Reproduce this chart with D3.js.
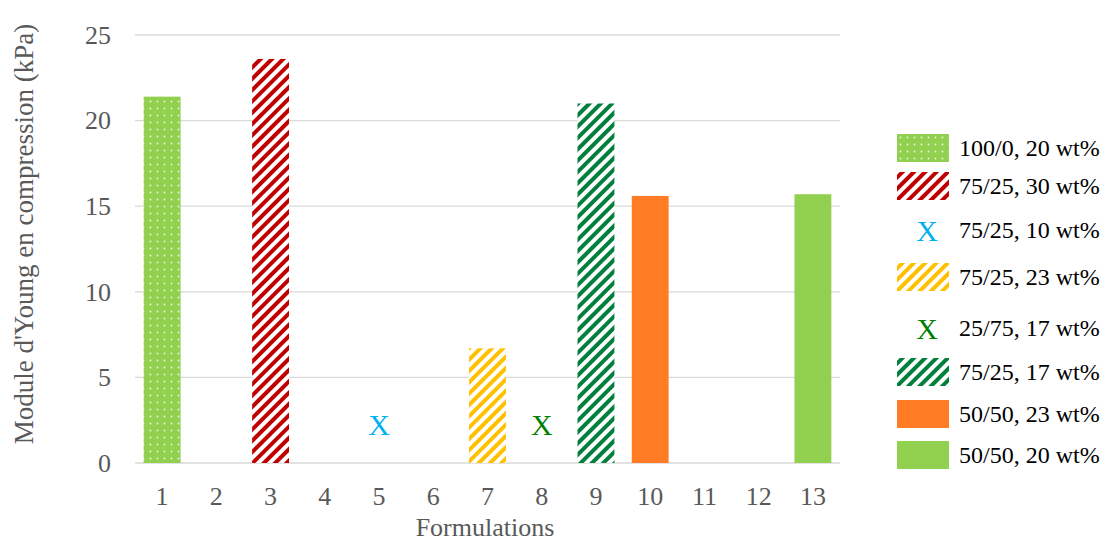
<!DOCTYPE html>
<html><head><meta charset="utf-8">
<script src="https://cdn.jsdelivr.net/npm/d3@7"></script>
<style>body{margin:0;background:#fff}svg{display:block}</style>
</head><body>
<script>
const categories = ["1","2","3","4","5","6","7","8","9","10","11","12","13"];
const seriesNames = ["100/0, 20 wt%","75/25, 30 wt%","75/25, 10 wt%","75/25, 23 wt%","25/75, 17 wt%","75/25, 17 wt%","50/50, 23 wt%","50/50, 20 wt%"];
const seriesCategory = ["1","3","5","7","8","9","10","13"];
const seriesValues = [21.4, 23.6, 2.2, 6.7, 2.2, 21.0, 15.6, 15.7];
const seriesKind = ["dots","stripes","x","stripes","x","stripes","solid","solid"];
const seriesColors = ["#92D050","#C00000","#00B0F0","#FFC000","#008000","#00803C","#FF7C24","#92D050"];
const yTicks = [0,5,10,15,20,25];

const FONT='"Liberation Serif","Times New Roman",serif';
const W=1105,H=543;
const svg=d3.select("body").append("svg").attr("width",W).attr("height",H);
const defs=svg.append("defs");
const m={l:135,r:840,t:35,b:463};
const x=d3.scaleBand().domain(categories).range([m.l,m.r]).paddingInner(0.32).paddingOuter(0.16);
const y=d3.scaleLinear().domain([0,25]).range([m.b,m.t]);

// patterns
seriesKind.forEach((k,i)=>{
  if(k==="dots"){
    const p=defs.append("pattern").attr("id","pat"+i).attr("patternUnits","userSpaceOnUse").attr("width",7).attr("height",7);
    p.append("rect").attr("width",7).attr("height",7).attr("fill",seriesColors[i]);
    p.append("circle").attr("cx",3.5).attr("cy",3.5).attr("r",0.9).attr("fill","#fff").attr("opacity",0.8);
  } else if(k==="stripes"){
    const p=defs.append("pattern").attr("id","pat"+i).attr("patternUnits","userSpaceOnUse").attr("width",8).attr("height",8).attr("patternTransform","rotate(45)");
    p.append("rect").attr("width",8).attr("height",8).attr("fill","#fff");
    p.append("rect").attr("width",4).attr("height",8).attr("fill",seriesColors[i]);
  }
});
const fillOf=i=>seriesKind[i]==="solid"?seriesColors[i]:"url(#pat"+i+")";

// grid
svg.append("g").selectAll("line").data(yTicks).join("line")
  .attr("x1",m.l).attr("x2",m.r).attr("y1",d=>y(d)).attr("y2",d=>y(d))
  .attr("stroke","#D9D9D9").attr("stroke-width",1.3);

// y axis
const ya=svg.append("g").attr("transform",`translate(${m.l},0)`).call(d3.axisLeft(y).tickValues(yTicks).tickSize(0).tickPadding(24));
ya.select(".domain").remove();
ya.selectAll("text").style("font-family",FONT).attr("font-size",26).attr("fill","#595959");

// x axis
const xa=svg.append("g").attr("transform",`translate(0,${m.b})`).call(d3.axisBottom(x).tickSize(0).tickPadding(24));
xa.select(".domain").remove();
xa.selectAll("text").style("font-family",FONT).attr("font-size",26).attr("fill","#595959");

// bars
const idx=d3.range(seriesNames.length);
svg.append("g").selectAll("rect").data(idx.filter(i=>seriesKind[i]!=="x")).join("rect")
  .attr("x",i=>x(seriesCategory[i])).attr("width",x.bandwidth())
  .attr("y",i=>y(seriesValues[i])).attr("height",i=>y(0)-y(seriesValues[i]))
  .attr("fill",i=>fillOf(i));
svg.append("g").selectAll("text").data(idx.filter(i=>seriesKind[i]==="x")).join("text")
  .attr("x",i=>x(seriesCategory[i])+x.bandwidth()/2).attr("y",i=>y(seriesValues[i]))
  .attr("dy","0.33em").attr("text-anchor","middle").style("font-family",FONT)
  .attr("font-size",30).attr("fill",i=>seriesColors[i]).text("X");

// titles
svg.append("text").attr("x",485).attr("y",536).attr("text-anchor","middle").style("font-family",FONT)
  .attr("font-size",26).attr("fill","#595959").text("Formulations");
svg.append("text").attr("transform","translate(33,234) rotate(-90)").attr("text-anchor","middle").style("font-family",FONT)
  .attr("font-size",27).attr("fill","#595959").text("Module d'Young en compression (kPa)");

// legend
const ly=[148,186,230,277,328,372,414,455];
const lg=svg.append("g").selectAll("g").data(idx).join("g").attr("transform",i=>`translate(897,${ly[i]})`);
lg.filter(i=>seriesKind[i]!=="x").append("rect").attr("x",0).attr("y",-14).attr("width",52).attr("height",28).attr("fill",i=>fillOf(i));
lg.filter(i=>seriesKind[i]==="x").append("text").attr("x",30).attr("dy","0.35em").attr("text-anchor","middle").style("font-family",FONT)
  .attr("font-size",30).attr("fill",i=>seriesColors[i]).text("X");
lg.append("text").attr("x",62).attr("dy","0.35em").style("font-family",FONT).attr("font-size",24).attr("fill","#000").text(i=>seriesNames[i]);
</script>
</body></html>
